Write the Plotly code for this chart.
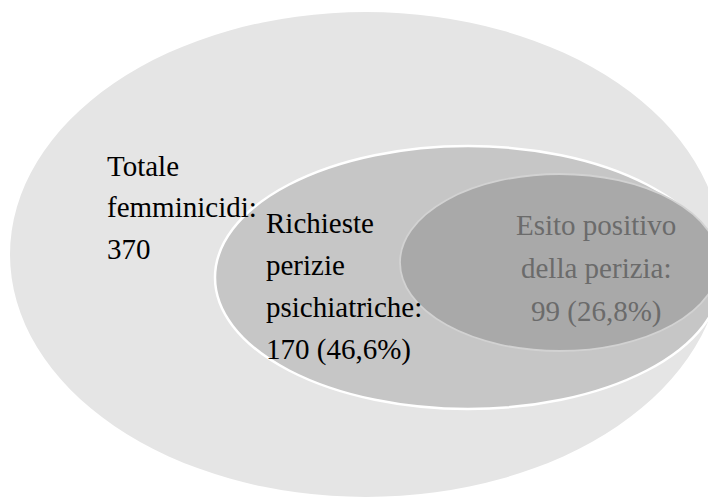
import plotly.graph_objects as go

# ---- data ----
categories = ["Totale femminicidi", "Richieste perizie psichiatriche", "Esito positivo della perizia"]
counts = [370, 170, 99]
shares = [None, "46,6%", "26,8%"]
label_lines = [
    ["Totale", "femminicidi:"],
    ["Richieste", "perizie", "psichiatriche:"],
    ["Esito positivo", "della perizia:"],
]

# ---- layout / geometry (page-pixel axis units) ----
W, H = 716, 498
OFF = 8  # default page body margin
ellipses = [  # x0, x1, y0, y1
    (10, 722, 12, 497),
    (215, 721, 146, 409),
    (400, 719, 174, 351),
]
fills = ["#e5e5e5", "#c6c6c6", "#a9a9a9"]
borders = [("#e5e5e5", 0), ("#ffffff", 2.5), ("#d2d2d2", 1.8)]
text_colors = ["#000000", "#000000", "#6b6b6b"]
text_x = [105, 264, 596]
text_anchor = ["left", "left", "center"]
baselines = [
    [175, 216, 258],
    [232, 274, 316, 358],
    [234, 277, 320],
]
FONT = "Liberation Serif"
FS = 29

fig = go.Figure()
fig.add_trace(go.Scatter(x=[OFF, W], y=[OFF, H], mode="markers",
                         marker=dict(opacity=0), hoverinfo="skip", showlegend=False))

for (x0, x1, y0, y1), fc, (lc, lw) in zip(ellipses, fills, borders):
    fig.add_shape(type="circle", xref="x", yref="y", x0=x0, x1=x1, y0=y0, y1=y1,
                  fillcolor=fc, line=dict(color=lc, width=lw), layer="below")

for i, cat in enumerate(categories):
    value = f"{counts[i]}" if shares[i] is None else f"{counts[i]} ({shares[i]})"
    lines = label_lines[i] + [value]
    for line, base in zip(lines, baselines[i]):
        fig.add_annotation(x=text_x[i], y=base - 9, xref="x", yref="y",
                           text=line, showarrow=False,
                           xanchor=text_anchor[i], yanchor="middle",
                           font=dict(family=FONT, size=FS, color=text_colors[i]))

fig.update_xaxes(range=[OFF, W + OFF], visible=False, fixedrange=True)
fig.update_yaxes(range=[H + OFF, OFF], visible=False, fixedrange=True)
fig.update_layout(width=W, height=H, margin=dict(l=0, r=0, t=0, b=0),
                  plot_bgcolor="white", paper_bgcolor="white")

fig.write_html("out.html", config={"displayModeBar": False})
